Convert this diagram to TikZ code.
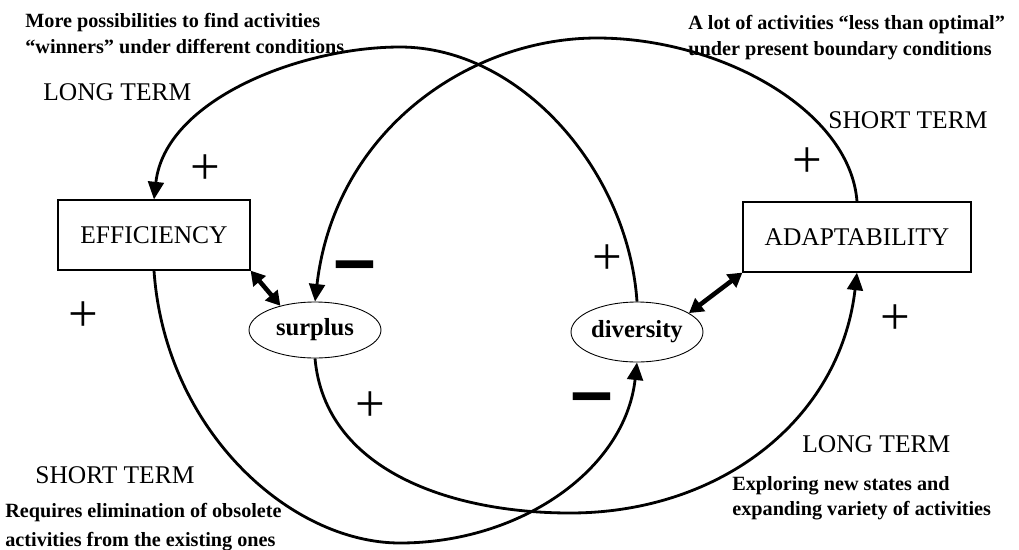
\documentclass[tikz,border=0pt]{standalone}
\usepackage{fontspec}
\setmainfont{Liberation Serif}
\usetikzlibrary{arrows.meta, shapes.geometric}
\tikzset{
    mainbox/.style={rectangle, draw, line width=0.7pt, minimum height=1.4cm, inner sep=0pt, font=\fontsize{14.5}{16}\selectfont},
    oval/.style={ellipse, draw, line width=0.5pt, minimum width=2.64cm, inner sep=0pt, font=\fontsize{14}{16}\selectfont\bfseries},
    feedback/.style={line width=1.6pt, -{Triangle[length=10pt, width=9pt]}},
    twoway/.style={line width=2.6pt, {Triangle[length=8pt, width=9pt]}-{Triangle[length=8pt, width=9pt]}},
    termlbl/.style={anchor=base west, inner sep=0pt, font=\fontsize{14.5}{16}\selectfont},
    notelbl/.style={anchor=north west, inner sep=0pt, align=left, font=\fontsize{11.5}{14.5}\selectfont\bfseries},
    signplus/.style={inner sep=0pt, font=\fontsize{30}{30}\selectfont},
    signminus/.style={inner sep=0pt, font=\fontsize{21}{21}\selectfont\bfseries}
}
\begin{document}
\begin{tikzpicture}[x=0.02cm, y=-0.02cm]
    \useasboundingbox (0,0) rectangle (1019,549);

    % Main nodes
    \node[mainbox, minimum width=3.84cm] (eff) at (154,235) {EFFICIENCY};
    \node[mainbox, minimum width=4.56cm] (adapt) at (857,237) {ADAPTABILITY};
    \node[oval, minimum height=1.12cm] (surplus) at (315,330) {surplus};
    \node[oval, minimum height=1.2cm] (diversity) at (637,332) {diversity};

    % Turning points of the loops
    \coordinate (topA) at (400,47);
    \coordinate (topB) at (597,38);
    \coordinate (botC) at (400,543);
    \coordinate (botD) at (570,513);

    % Loops
    \draw[feedback] (diversity.north) .. controls (628,170) and (520,47) .. (topA) .. controls (300,47) and (165,100) .. (eff.north);
    \draw[feedback] (adapt.north) .. controls (850,110) and (720,38) .. (topB) .. controls (470,38) and (335,130) .. (surplus.north);
    \draw[feedback] (eff.south) .. controls (165,430) and (290,543) .. (botC) .. controls (520,543) and (625,470) .. (diversity.south);
    \draw[feedback] (surplus.south) .. controls (325,470) and (450,513) .. (botD) .. controls (720,513) and (840,420) .. (adapt.south);

    % Two-way links
    \draw[twoway] (eff.south east) -- (surplus.145);
    \draw[twoway] (diversity.20) -- (adapt.south west);

    % Signs
    \node[signplus] (p1) at (205,170) {+};
    \node[signplus] (p2) at (83,317) {+};
    \node[signplus] (p3) at (607,260) {+};
    \node[signplus] (p4) at (807,163) {+};
    \node[signplus] (p5) at (895,320) {+};
    \node[signplus] (p6) at (370,407) {+};
    \node[signminus] (m1) at (355,276) {\scalebox{1}[3]{—}};
    \node[signminus] (m2) at (592,408) {\scalebox{1}[3]{—}};

    % Time labels
    \node[termlbl] (lt1) at (43,100) {LONG TERM};
    \node[termlbl] (st1) at (828,128) {SHORT TERM};
    \node[termlbl] (st2) at (35,483) {SHORT TERM};
    \node[termlbl] (lt2) at (802,452) {LONG TERM};

    % Notes
    \node[notelbl] (n1) at (25,13) {More possibilities to find activities\\“winners” under different conditions};
    \node[notelbl] (n2) at (688,15) {A lot of activities “less than optimal”\\under present boundary conditions};
    \node[notelbl, font=\fontsize{11.5}{16.5}\selectfont\bfseries] (n3) at (5,503) {Requires elimination of obsolete\\activities from the existing ones};
    \node[notelbl] (n4) at (732,476) {Exploring new states and\\expanding variety of activities};
\end{tikzpicture}
\end{document}
